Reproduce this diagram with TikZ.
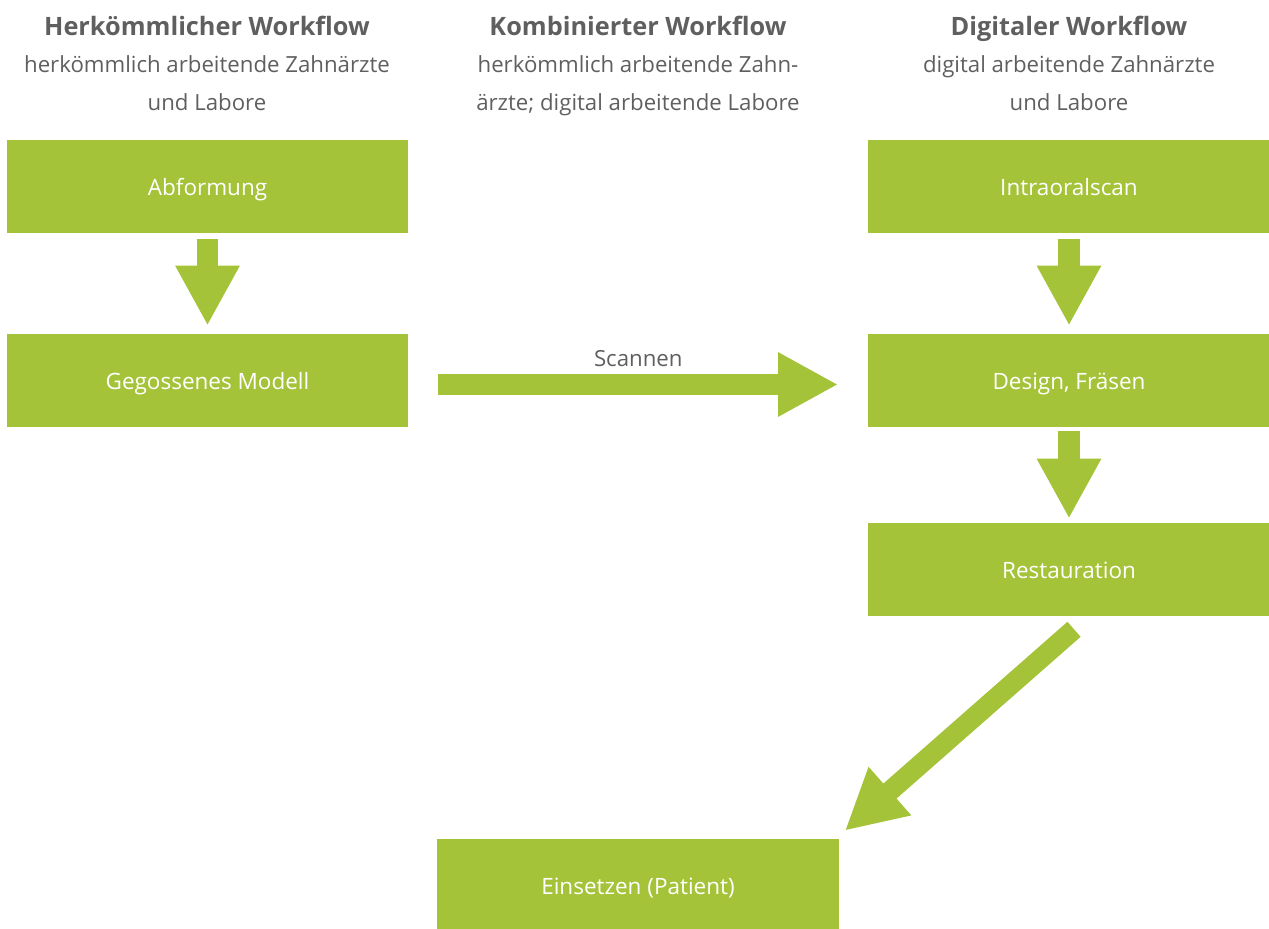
\documentclass[tikz,border=0pt]{standalone}
\usepackage{fontspec}
\setmainfont{Open Sans}
\usetikzlibrary{arrows.meta,positioning}
\definecolor{zgreen}{HTML}{A5C339}
\definecolor{zgray}{HTML}{5F5F5F}
\tikzset{
  flowbox/.style={
      fill=zgreen,
      text=white,
      minimum width=10.025cm,
      minimum height=2.325cm,
      inner sep=0pt,
      text height=16pt,
      text depth=3.9pt,
      font=\fontsize{16}{19}\selectfont
  },
  head/.style={
      text=zgray,
      anchor=base,
      inner sep=0pt,
      font=\bfseries\fontsize{18}{21}\selectfont
  },
  sub/.style={
      text=zgray,
      align=center,
      inner sep=0pt,
      font=\fontsize{15.8}{27}\selectfont
  },
  bigarrow/.style={
      draw=zgreen,
      line width=15.6pt,
      -{Triangle[length=42.7pt,width=42.7pt]}
  }
}

\begin{document}
\begin{tikzpicture}[x=0.025cm,y=-0.025cm]
    \useasboundingbox (0,0) rectangle (1269,928);
    % headings
    \node[head] (hHerk) at (207,35) {Herkömmlicher Workflow};
    \node[head] (hKomb) at (638,35) {Kombinierter Workflow};
    \node[head] (hDig)  at (1069,35) {Digitaler Workflow};
    \node[sub] (sHerk) at (207,83.5) {\strut herkömmlich arbeitende Zahnärzte\\\strut und Labore};
    \node[sub] (sKomb) at (638,83.5) {\strut herkömmlich arbeitende Zahn-\\\strut ärzte; digital arbeitende Labore};
    \node[sub] (sDig)  at (1069,83.5) {\strut digital arbeitende Zahnärzte\\\strut und Labore};
    % steps
    \node[flowbox] (abf) at (207.5,186.5) {Abformung};
    \node[flowbox] (geg) at (207.5,380.5) {Gegossenes Modell};
    \node[flowbox] (ios) at (1069,186.5) {Intraoralscan};
    \node[flowbox] (des) at (1069,380.5) {Design, Fräsen};
    \node[flowbox] (res) at (1069,569.5) {Restauration};
    \node[flowbox] (ein) at (638,885.5) {Einsetzen (Patient)};
    % arrows
    \draw[bigarrow] ([yshift=-0.15cm]abf.south) -- ([yshift=0.2cm]geg.north);
    \draw[bigarrow] ([yshift=-0.15cm]ios.south) -- ([yshift=0.2cm]des.north);
    \draw[bigarrow] ([yshift=-0.1cm]des.south) -- ([yshift=0.1cm]res.north);
    \draw[bigarrow] ([xshift=0.75cm,yshift=-0.1cm]geg.east) -- ([xshift=-0.75cm,yshift=-0.1cm]des.west)
        node[midway,anchor=base,yshift=0.45cm,inner sep=0pt,text=zgray,font=\fontsize{15.8}{19}\selectfont] (scan) {Scannen};
    \draw[bigarrow,line width=14.2pt] ([xshift=0.125cm,yshift=-0.325cm]res.south) -- ([xshift=0.15cm,yshift=0.2cm]ein.north east);
\end{tikzpicture}
\end{document}
